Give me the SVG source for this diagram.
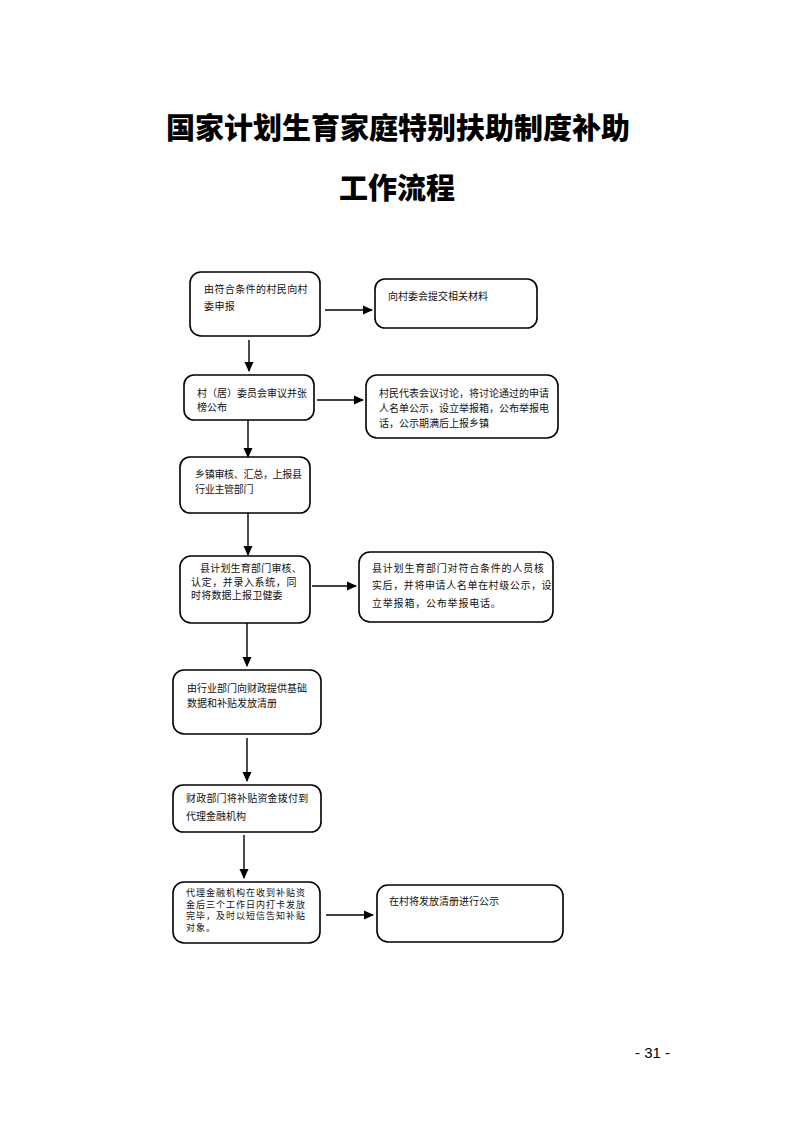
<svg xmlns="http://www.w3.org/2000/svg" width="793" height="1122" viewBox="0 0 793 1122">
<style>
.bx{fill:#fff;stroke:#000;stroke-width:1.6}
.t{font-family:"Noto Sans CJK SC","Noto Sans CJK TC",sans-serif;font-size:10px;fill:#111}
.ts{font-family:"Noto Sans CJK SC","Noto Sans CJK TC",sans-serif;font-size:9px;fill:#111;letter-spacing:1px}
.ttl{font-family:"Noto Sans CJK SC","Noto Sans CJK TC",sans-serif;font-size:29px;font-weight:900;fill:#000;text-anchor:middle}
.ln{stroke:#000;stroke-width:1.4;fill:none;marker-end:url(#ah)}
</style>
<defs>
<marker id="ah" markerWidth="10" markerHeight="10" refX="9" refY="5" orient="auto" markerUnits="userSpaceOnUse">
<path d="M0,0.5 L10,5 L0,9.5 Z" fill="#000"/>
</marker>
</defs>
<rect width="793" height="1122" fill="#fff"/>
<g id="title">
<text class="ttl" x="398" y="139">国家计划生育家庭特别扶助制度补助</text>
<text class="ttl" x="397" y="199">工作流程</text>
</g>
<g id="n1"><rect class="bx" x="190" y="272" width="130" height="64" rx="11"/>
<text class="t" x="204" y="293" letter-spacing="0.4">由符合条件的村民向村</text>
<text class="t" x="204" y="310" letter-spacing="0.4">委申报</text></g>
<g id="n1r"><rect class="bx" x="375" y="279" width="162" height="49" rx="10"/>
<text class="t" x="388" y="300">向村委会提交相关材料</text></g>
<g id="n2"><rect class="bx" x="184" y="375" width="130" height="45" rx="10"/>
<text class="t" x="197" y="397">村（居）委员会审议并张</text>
<text class="t" x="197" y="411">榜公布</text></g>
<g id="n2r"><rect class="bx" x="366" y="375" width="192" height="63" rx="11"/>
<text class="t" x="379" y="397">村民代表会议讨论，将讨论通过的申请</text>
<text class="t" x="379" y="412">人名单公示，设立举报箱，公布举报电</text>
<text class="t" x="379" y="427">话，公示期满后上报乡镇</text></g>
<g id="n3"><rect class="bx" x="180" y="457" width="130" height="56" rx="10"/>
<text class="t" x="195" y="478" letter-spacing="-0.3">乡镇审核、汇总，上报县</text>
<text class="t" x="195" y="493" letter-spacing="-0.3">行业主管部门</text></g>
<g id="n4"><rect class="bx" x="180" y="556" width="130" height="67" rx="11"/>
<text class="t" x="200" y="572" letter-spacing="0.2">县计划生育部门审核、</text>
<text class="t" x="191" y="586" letter-spacing="0.6">认定，并录入系统，同</text>
<text class="t" x="191" y="599" letter-spacing="0.2">时将数据上报卫健委</text></g>
<g id="n4r"><rect class="bx" x="359" y="552" width="194" height="70" rx="11"/>
<text class="t" x="372" y="572" letter-spacing="0.8">县计划生育部门对符合条件的人员核</text>
<text class="t" x="372" y="589" letter-spacing="0.6">实后，并将申请人名单在村级公示，设</text>
<text class="t" x="372" y="607" letter-spacing="0.8">立举报箱，公布举报电话。</text></g>
<g id="n5"><rect class="bx" x="173" y="670" width="148" height="64" rx="11"/>
<text class="t" x="187" y="692">由行业部门向财政提供基础</text>
<text class="t" x="187" y="707">数据和补贴发放清册</text></g>
<g id="n6"><rect class="bx" x="173" y="785" width="148" height="47" rx="10"/>
<text class="t" x="186" y="802" letter-spacing="0.2">财政部门将补贴资金拨付到</text>
<text class="t" x="186" y="820">代理金融机构</text></g>
<g id="n7"><rect class="bx" x="173" y="882" width="147" height="61" rx="11"/>
<text class="ts" x="186" y="896">代理金融机构在收到补贴资</text>
<text class="ts" x="186" y="907.5">金后三个工作日内打卡发放</text>
<text class="ts" x="186" y="919">完毕，及时以短信告知补贴</text>
<text class="ts" x="186" y="930.5">对象。</text></g>
<g id="n7r"><rect class="bx" x="377" y="885" width="186" height="57" rx="11"/>
<text class="t" x="389" y="905">在村将发放清册进行公示</text></g>
<g id="connectors">
<line class="ln" x1="325" y1="310" x2="372" y2="310"/>
<line class="ln" x1="249" y1="340" x2="249" y2="371"/>
<line class="ln" x1="317" y1="400" x2="363" y2="400"/>
<line class="ln" x1="248" y1="420" x2="248" y2="457"/>
<line class="ln" x1="248" y1="513" x2="248" y2="555"/>
<line class="ln" x1="312" y1="586" x2="356" y2="586"/>
<line class="ln" x1="247" y1="623" x2="247" y2="666"/>
<line class="ln" x1="247" y1="738" x2="247" y2="781"/>
<line class="ln" x1="244" y1="835" x2="244" y2="878"/>
<line class="ln" x1="326" y1="915" x2="373" y2="915"/>
</g>
<text x="635" y="1058" font-family="Liberation Sans, sans-serif" font-size="15" fill="#000">- 31 -</text>
</svg>
